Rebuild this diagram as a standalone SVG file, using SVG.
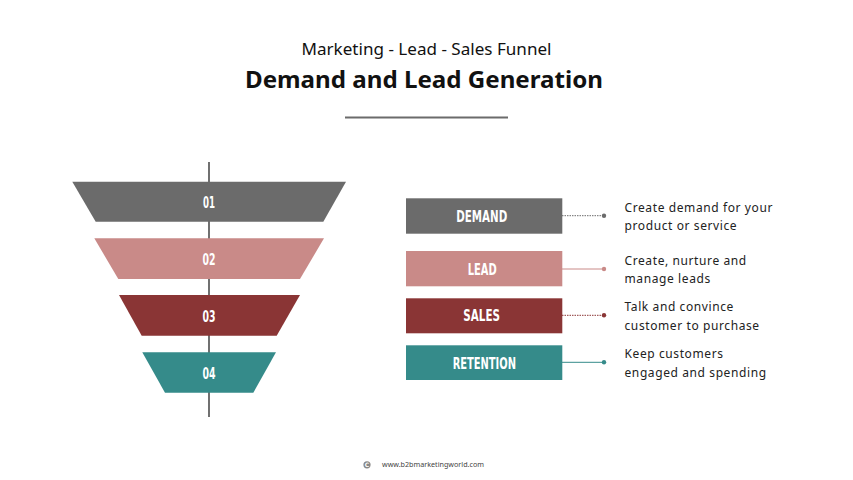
<svg xmlns="http://www.w3.org/2000/svg" width="853" height="480" viewBox="0 0 853 480">
<style>
.num{font-family:"DejaVu Sans Condensed","DejaVu Sans",sans-serif;font-weight:bold;font-size:16px;fill:#fff;text-anchor:middle}
.lbl{font-family:"DejaVu Sans Condensed","DejaVu Sans",sans-serif;font-weight:bold;font-size:16px;fill:#fff;text-anchor:middle}
.desc{font-family:"Noto Sans",sans-serif;font-size:12px;fill:#222;letter-spacing:0.6px}
</style>
<rect width="853" height="480" fill="#fff"/>
<text x="426.5" y="55" text-anchor="middle" font-family="Noto Sans, sans-serif" font-size="16.5" fill="#111" textLength="250" lengthAdjust="spacingAndGlyphs">Marketing - Lead - Sales Funnel</text>
<text x="424" y="88" text-anchor="middle" font-family="Noto Sans, sans-serif" font-weight="bold" font-size="24" fill="#111" textLength="358" lengthAdjust="spacingAndGlyphs">Demand and Lead Generation</text>
<line x1="345" y1="117.5" x2="508" y2="117.5" stroke="#6b6b6b" stroke-width="2"/>
<g id="connectors">
<line x1="209" y1="162" x2="209" y2="417" stroke="#111" stroke-width="1.2"/>
<line x1="562" y1="215.7" x2="604" y2="215.7" stroke="#6b6b6b" stroke-width="1" stroke-dasharray="1.5 1"/>
<circle cx="604" cy="215.7" r="2.2" fill="#6b6b6b"/>
<line x1="562" y1="269" x2="604" y2="269" stroke="#c98a88" stroke-width="1"/>
<circle cx="604" cy="269" r="2.2" fill="#c98a88"/>
<line x1="562" y1="315.3" x2="604" y2="315.3" stroke="#8a3535" stroke-width="1" stroke-dasharray="1.5 1"/>
<circle cx="604" cy="315.3" r="2.2" fill="#8a3535"/>
<line x1="562" y1="362.3" x2="604" y2="362.3" stroke="#358b8a" stroke-width="1"/>
<circle cx="604" cy="362.3" r="2.2" fill="#358b8a"/>
</g>
<g id="stage1">
<polygon points="72.3,181.7 346,181.7 323.3,221.7 95.7,221.7" fill="#6b6b6b"/>
<text class="num" x="209" y="208.3" textLength="12" lengthAdjust="spacingAndGlyphs">01</text>
</g>
<g id="stage2">
<polygon points="94.3,238.3 324,238.3 300,279 118.3,279" fill="#c98a88"/>
<text class="num" x="209" y="265" textLength="13" lengthAdjust="spacingAndGlyphs">02</text>
</g>
<g id="stage3">
<polygon points="119,295 300,295 276.7,335.7 141.7,335.7" fill="#8a3535"/>
<text class="num" x="209" y="322.3" textLength="13" lengthAdjust="spacingAndGlyphs">03</text>
</g>
<g id="stage4">
<polygon points="142.3,352.3 276,352.3 253.3,392.7 165,392.7" fill="#358b8a"/>
<text class="num" x="209" y="379" textLength="13" lengthAdjust="spacingAndGlyphs">04</text>
</g>
<g id="demand">
<rect x="406" y="198.3" width="156.3" height="35.4" fill="#6b6b6b"/>
<text class="lbl" x="481.7" y="222.3" textLength="51" lengthAdjust="spacingAndGlyphs">DEMAND</text>
<text class="desc" x="624.5" y="212">Create demand for your</text>
<text class="desc" x="624.5" y="230">product or service</text>
</g>
<g id="lead">
<rect x="406" y="251" width="156.3" height="35.3" fill="#c98a88"/>
<text class="lbl" x="482.2" y="274.7" textLength="29" lengthAdjust="spacingAndGlyphs">LEAD</text>
<text class="desc" x="624.5" y="264.5">Create, nurture and</text>
<text class="desc" x="624.5" y="282.5">manage leads</text>
</g>
<g id="sales">
<rect x="406" y="298.3" width="156.3" height="35" fill="#8a3535"/>
<text class="lbl" x="481.7" y="321.3" textLength="36.7" lengthAdjust="spacingAndGlyphs">SALES</text>
<text class="desc" x="624.5" y="311">Talk and convince</text>
<text class="desc" x="624.5" y="329.5">customer to purchase</text>
</g>
<g id="retention">
<rect x="406" y="345.3" width="156.3" height="34.7" fill="#358b8a"/>
<text class="lbl" x="484.3" y="368.7" textLength="63.3" lengthAdjust="spacingAndGlyphs">RETENTION</text>
<text class="desc" x="624.5" y="358">Keep customers</text>
<text class="desc" x="624.5" y="376.5">engaged and spending</text>
</g>
<g id="footer">
<circle cx="367" cy="464.8" r="3.6" fill="#888"/>
<text x="367" y="467.3" text-anchor="middle" font-family="DejaVu Sans, sans-serif" font-weight="bold" font-size="6" fill="#fff">C</text>
<text x="382" y="467" font-family="Noto Sans, sans-serif" font-size="7" fill="#444" textLength="102" lengthAdjust="spacingAndGlyphs">www.b2bmarketingworld.com</text>
</g>
</svg>
